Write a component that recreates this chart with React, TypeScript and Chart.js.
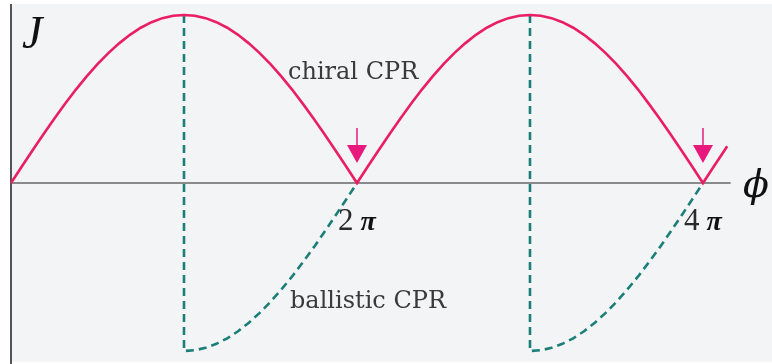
import React, { useEffect, useRef } from "react";
import { Chart, registerables } from "chart.js";

Chart.register(...registerables);

// Phase φ in units of π
const phi = [
  0, 0.0625, 0.125, 0.1875, 0.25, 0.3125, 0.375, 0.4375, 0.5, 0.5625, 0.625, 0.6875, 0.75, 0.8125, 0.875, 0.9375,
  1, 1.0625, 1.125, 1.1875, 1.25, 1.3125, 1.375, 1.4375, 1.5, 1.5625, 1.625, 1.6875, 1.75, 1.8125, 1.875, 1.9375,
  2, 2.0625, 2.125, 2.1875, 2.25, 2.3125, 2.375, 2.4375, 2.5, 2.5625, 2.625, 2.6875, 2.75, 2.8125, 2.875, 2.9375,
  3, 3.0625, 3.125, 3.1875, 3.25, 3.3125, 3.375, 3.4375, 3.5, 3.5625, 3.625, 3.6875, 3.75, 3.8125, 3.875, 3.9375,
  4, 4.0625, 4.125, 4.14,
];

// Chiral current-phase relation J(φ)
const chiralJ = [
  0, 0.098, 0.195, 0.29, 0.383, 0.471, 0.556, 0.634, 0.707, 0.773, 0.831, 0.882, 0.924, 0.957, 0.981, 0.995,
  1.0, 0.995, 0.981, 0.957, 0.924, 0.882, 0.831, 0.773, 0.707, 0.634, 0.556, 0.471, 0.383, 0.29, 0.195, 0.098,
  0, 0.098, 0.195, 0.29, 0.383, 0.471, 0.556, 0.634, 0.707, 0.773, 0.831, 0.882, 0.924, 0.957, 0.981, 0.995,
  1.0, 0.995, 0.981, 0.957, 0.924, 0.882, 0.831, 0.773, 0.707, 0.634, 0.556, 0.471, 0.383, 0.29, 0.195, 0.098,
  0, 0.098, 0.195, 0.219,
];

// Ballistic branches: jump at φ = π and 3π, then rising back to zero (null = break)
const ballisticPhi = [
  1, 1, 1.0625, 1.125, 1.1875, 1.25, 1.3125, 1.375, 1.4375, 1.5, 1.5625, 1.625, 1.6875, 1.75, 1.8125, 1.875, 1.9375, 2,
  2.5,
  3, 3, 3.0625, 3.125, 3.1875, 3.25, 3.3125, 3.375, 3.4375, 3.5, 3.5625, 3.625, 3.6875, 3.75, 3.8125, 3.875, 3.9375, 4,
];
const ballisticJ = [
  1, -1, -0.995, -0.981, -0.957, -0.924, -0.882, -0.831, -0.773, -0.707, -0.634, -0.556, -0.471, -0.383, -0.29, -0.195, -0.098, 0,
  null,
  1, -1, -0.995, -0.981, -0.957, -0.924, -0.882, -0.831, -0.773, -0.707, -0.634, -0.556, -0.471, -0.383, -0.29, -0.195, -0.098, 0,
];

// Arrows mark the zeros at 2π and 4π
const arrowPhi = [2, 4];
const tickPhi = [2, 4];
const tickDigits = ["2", "4"];

const X_MIN = -0.0636;
const X_MAX = 4.399;
const Y_MIN = -1.077;
const Y_MAX = 1.089;

const PINK = "#e91e63";
const ARROW = "#e8197c";
const TEAL = "#1b7f78";
const BG = "#f3f4f6";

const decorPlugin = {
  id: "decor",
  beforeDatasetsDraw(chart: any) {
    const { ctx, scales, width, height } = chart;
    const xs = scales.x;
    const ys = scales.y;
    const x0 = xs.getPixelForValue(0);
    const y0 = ys.getPixelForValue(0);
    ctx.save();
    ctx.fillStyle = "#ffffff";
    ctx.fillRect(0, 0, width, height);
    ctx.fillStyle = BG;
    ctx.fillRect(x0, 4, width - x0, height - 6);
    // horizontal φ axis
    ctx.strokeStyle = "#8a8a8a";
    ctx.lineWidth = 2;
    ctx.beginPath();
    ctx.moveTo(x0, y0);
    ctx.lineTo(xs.getPixelForValue(4.16), y0);
    ctx.stroke();
    // vertical J axis
    ctx.strokeStyle = "#555555";
    ctx.beginPath();
    ctx.moveTo(x0, 4);
    ctx.lineTo(x0, height);
    ctx.stroke();
    ctx.restore();
  },
  afterDatasetsDraw(chart: any) {
    const { ctx, scales } = chart;
    const xs = scales.x;
    const ys = scales.y;
    const y0 = ys.getPixelForValue(0);
    ctx.save();

    // downward arrows above the cusps
    arrowPhi.forEach((p) => {
      const x = xs.getPixelForValue(p);
      ctx.strokeStyle = ARROW;
      ctx.lineWidth = 1.5;
      ctx.beginPath();
      ctx.moveTo(x, y0 - 55);
      ctx.lineTo(x, y0 - 37);
      ctx.stroke();
      ctx.fillStyle = ARROW;
      ctx.beginPath();
      ctx.moveTo(x - 10, y0 - 38);
      ctx.lineTo(x + 10, y0 - 38);
      ctx.lineTo(x, y0 - 20);
      ctx.closePath();
      ctx.fill();
    });

    // tick labels 2π, 4π
    ctx.textBaseline = "alphabetic";
    ctx.textAlign = "left";
    tickPhi.forEach((p, i) => {
      const cx = xs.getPixelForValue(p);
      ctx.fillStyle = "#2a2a2a";
      ctx.font = "31px 'Liberation Serif'";
      const left = cx - 19;
      ctx.fillText(tickDigits[i], left, y0 + 47);
      const dW = ctx.measureText(tickDigits[i]).width;
      ctx.fillStyle = "#111111";
      ctx.font = "bold italic 28px 'Liberation Serif'";
      ctx.fillText("π", left + dW + 7, y0 + 47);
    });

    // curve labels
    ctx.fillStyle = "#3a3a3a";
    ctx.font = "24px 'DejaVu Serif'";
    ctx.fillText("chiral CPR", 288, 79);
    ctx.fillText("ballistic CPR", 290, 308);

    // axis symbols
    ctx.fillStyle = "#111111";
    ctx.font = "italic 46px 'Liberation Serif'";
    ctx.fillText("J", 22, 48);
    ctx.font = "italic 38px 'DejaVu Serif'";
    ctx.fillText("ϕ", 743, 197);

    ctx.restore();
  },
};

export default function App() {
  const canvasRef = useRef<HTMLCanvasElement | null>(null);

  useEffect(() => {
    const canvas = canvasRef.current;
    if (!canvas) return;
    const chart = new Chart(canvas, {
      type: "line",
      data: {
        datasets: [
          {
            label: "chiral CPR",
            data: phi.map((p, i) => ({ x: p, y: chiralJ[i] })),
            borderColor: PINK,
            borderWidth: 2.6,
            pointRadius: 0,
            tension: 0,
            fill: false,
          },
          {
            label: "ballistic CPR",
            data: ballisticPhi.map((p, i) => ({ x: p, y: ballisticJ[i] })),
            borderColor: TEAL,
            borderWidth: 2.6,
            borderDash: [8, 5],
            pointRadius: 0,
            tension: 0,
            spanGaps: false,
            fill: false,
          },
        ],
      },
      options: {
        animation: false,
        responsive: false,
        maintainAspectRatio: false,
        layout: { padding: 0 },
        plugins: {
          legend: { display: false },
          tooltip: { enabled: false },
        },
        scales: {
          x: { type: "linear", min: X_MIN, max: X_MAX, display: false },
          y: { type: "linear", min: Y_MIN, max: Y_MAX, display: false },
        },
      },
      plugins: [decorPlugin],
    });
    return () => chart.destroy();
  }, []);

  return (
    <div style={{ position: "fixed", left: 0, top: 0, width: 772, height: 364 }}>
      <canvas ref={canvasRef} width={772} height={364} style={{ display: "block" }} />
    </div>
  );
}
